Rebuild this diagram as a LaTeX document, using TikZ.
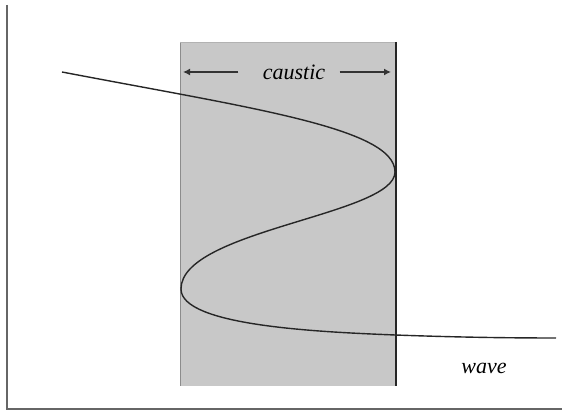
\documentclass[tikz,border=0pt]{standalone}
\usepackage{fontspec}
\setmainfont{Liberation Serif}
\usetikzlibrary{arrows.meta}
\definecolor{causticgray}{RGB}{200,200,200}
\tikzset{
    axisline/.style={draw=black!60, line width=0.8pt},
    waveline/.style={draw=black!85, line width=0.7pt},
    spanarrow/.style={draw=black!80, line width=0.9pt, -{Latex[length=3.5pt,width=3.5pt]}},
    labeltext/.style={font=\itshape\fontsize{11}{13}\selectfont, inner sep=1pt}
}
\begin{document}
\begin{tikzpicture}[x=0.5pt, y=-0.5pt]
    \useasboundingbox (0,0) rectangle (564,415);

    \coordinate (Origin) at (7,409);
    \coordinate (Top) at (7,5);
    \coordinate (Right) at (562,409);

    % Caustic band
    \fill[causticgray] (180,42) rectangle (396,386);
    \draw[black!45, line width=0.5pt] (180,42) -- (180,386);
    \draw[black!30, line width=0.4pt] (180,42) -- (396,42);
    \draw[black!85, line width=0.8pt] (396,42) -- (396,386);

    % Axes
    \draw[axisline] (Top) -- (Origin) -- (Right);

    % Wave
    \coordinate (WaveStart) at (62,72);
    \coordinate (FoldRight) at (395,172);
    \coordinate (FoldLeft) at (181,289);
    \coordinate (BandExit) at (395,335);
    \coordinate (WaveEnd) at (556,338);
    \draw[waveline] (WaveStart) .. controls (250,108) and (395,128) .. (FoldRight)
        .. controls (395,215) and (181,230) .. (FoldLeft)
        .. controls (181,326) and (320,332) .. (BandExit)
        .. controls (450,337) and (500,338) .. (WaveEnd);

    % Labels
    \node[labeltext] (caustic) at (294,72) {caustic};
    \coordinate (CausticL) at (183,72);
    \coordinate (CausticR) at (391,72);
    \draw[spanarrow] (caustic.west) ++(-22,0) -- (CausticL);
    \draw[spanarrow] (caustic.east) ++(12,0) -- (CausticR);

    \node[labeltext] (wave) at (484,368) {wave};

\end{tikzpicture}
\end{document}
